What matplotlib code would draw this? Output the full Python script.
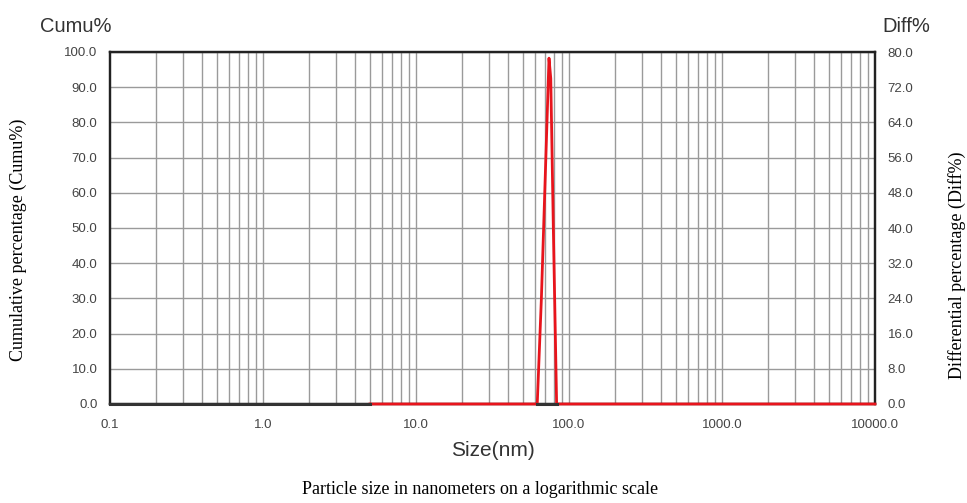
import matplotlib.pyplot as plt
import numpy as np

# cumulative curve (left axis, %)
cumu_size = [0.1, 5.0, 62.0, 83.0]
cumu_pct = [0.0, 0.0, 0.0, 0.0]

# differential curve (right axis, %)
diff_size = [5.0, 62.0, 66.0, 70.0, 74.0, 76.0, 79.0, 83.0, 10000.0]
diff_pct = [0.0, 0.0, 24.0, 52.0, 78.6, 74.0, 40.0, 0.0, 0.0]

x_ticks = [0.1, 1, 10, 100, 1000, 10000]
x_labels = ["0.1", "1.0", "10.0", "100.0", "1000.0", "10000.0"]
cumu_ticks = np.arange(0, 101, 10)
diff_ticks = np.arange(0, 81, 8)

fig = plt.figure(figsize=(9.67, 5.03), dpi=100)
ax = fig.add_axes([110 / 967, 99 / 503, 765 / 967, 352 / 503])
ax2 = ax.twinx()

ax.set_xscale("log")
ax.set_xlim(0.1, 10000)
ax.set_ylim(0, 100)
ax2.set_ylim(0, 80)

# grid: every minor log position + every 10 %
minor = [m * 10.0 ** e for e in range(-1, 4) for m in range(1, 10)][1:]
for v in minor:
    ax.axvline(v, color="#9a9a9a", lw=1.0, zorder=0)
for v in cumu_ticks[1:]:
    ax.axhline(v, color="#9a9a9a", lw=1.0, zorder=0)

ax2.plot(diff_size, diff_pct, color="#e8141c", lw=2.0, zorder=10, clip_on=False)
ax2.plot(cumu_size[:2], cumu_pct[:2], color="#333333", lw=2.2, zorder=11, clip_on=False)
ax2.plot(cumu_size[2:], cumu_pct[2:], color="#333333", lw=2.2, zorder=11, clip_on=False)

ax.set_xticks(x_ticks)
ax.set_xticklabels(x_labels)
ax.xaxis.set_minor_locator(plt.NullLocator())
ax.set_yticks(cumu_ticks)
ax.set_yticklabels([f"{v:.1f}" for v in cumu_ticks])
ax2.set_yticks(diff_ticks)
ax2.set_yticklabels([f"{v:.1f}" for v in diff_ticks])

for a in (ax, ax2):
    a.tick_params(length=0, labelsize=9.5, labelcolor="#444444", pad=9,
                  labelfontfamily="Liberation Sans")
    for s in a.spines.values():
        s.set_color("#222222")
        s.set_linewidth(1.6)
        s.set_zorder(5)
ax.tick_params(axis="x", pad=11)

ax.set_xlabel("Size(nm)", fontsize=15, color="#333333", family="Liberation Sans", labelpad=7)

fig.text(40 / 967, 1 - 27 / 503, "Cumu%", fontsize=14.5, color="#333333",
         family="Liberation Sans", ha="left", va="center")
fig.text(882 / 967, 1 - 27 / 503, "Diff%", fontsize=14.5, color="#333333",
         family="Liberation Sans", ha="left", va="center")
fig.text(18 / 967, 1 - 240 / 503, "Cumulative percentage (Cumu%)", rotation=90,
         fontsize=13, family="Liberation Serif", ha="center", va="center")
fig.text(957 / 967, 1 - 265 / 503, "Differential percentage (Diff%)", rotation=90,
         fontsize=13, family="Liberation Serif", ha="center", va="center")
fig.text(480 / 967, 1 - 490 / 503, "Particle size in nanometers on a logarithmic scale",
         fontsize=13, family="Liberation Serif", ha="center", va="center")

fig.savefig("out.png", dpi=100)
